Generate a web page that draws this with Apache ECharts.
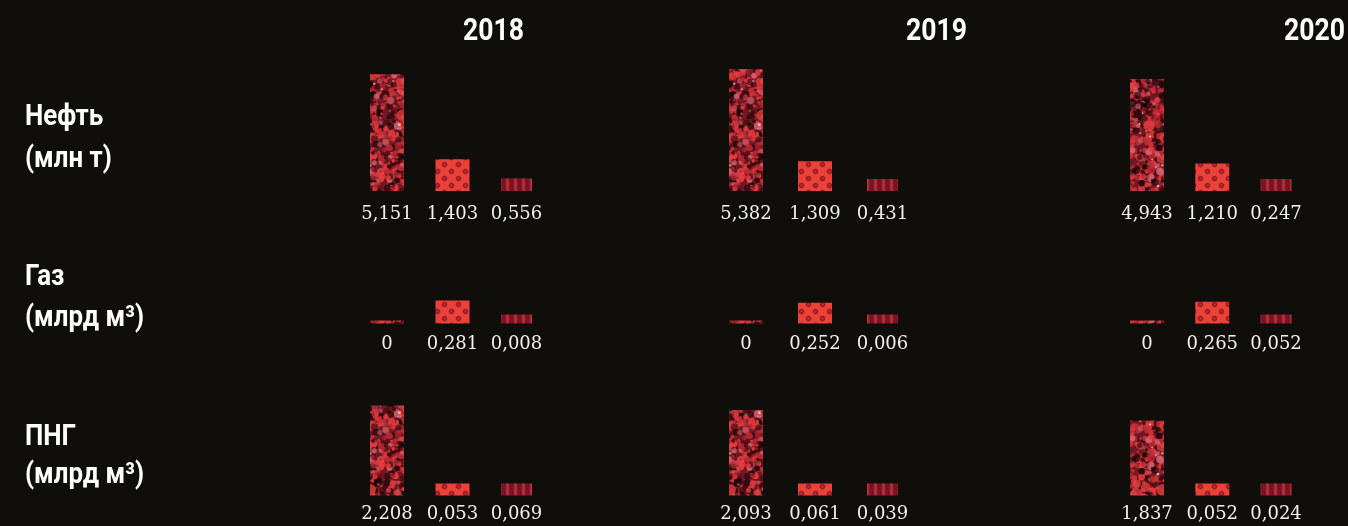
<!DOCTYPE html>
<html><head><meta charset="utf-8">
<script src="https://cdn.jsdelivr.net/npm/echarts@6/dist/echarts.min.js"></script>
<style>html,body{margin:0;padding:0;background:#100e0b;}#c{width:1348px;height:526px;}</style>
</head><body><div id="c"></div>
<script>
// ---- data ----
const years = ['2018', '2019', '2020'];
const barCategories = ['I', 'II', 'III'];
const rowTitles = ['Нефть', 'Газ', 'ПНГ'];
const rowUnits = ['(млн т)', '(млрд м³)', '(млрд м³)'];
// values per year: [bar I, bar II, bar III]
const oil = [[5.151, 1.403, 0.556], [5.382, 1.309, 0.431], [4.943, 1.210, 0.247]];
const gas = [[0, 0.281, 0.008], [0, 0.252, 0.006], [0, 0.265, 0.052]];
const apg = [[2.208, 0.053, 0.069], [2.093, 0.061, 0.039], [1.837, 0.052, 0.024]];
const rowsData = [oil, gas, apg];

// ---- textures ----
function rng(seed) { return function () { seed |= 0; seed = seed + 0x6D2B79F5 | 0; let t = Math.imul(seed ^ seed >>> 15, 1 | seed); t = t + Math.imul(t ^ t >>> 7, 61 | t) ^ t; return ((t ^ t >>> 14) >>> 0) / 4294967296; }; }
function noiseTexture() {
  const W = 72, H = 144;
  const cv = document.createElement('canvas'); cv.width = W; cv.height = H;
  const ctx = cv.getContext('2d'); const r = rng(11);
  ctx.fillStyle = '#70182222'; ctx.fillStyle = '#701822'; ctx.fillRect(0, 0, W, H);
  const blob = (x, y, rad, fill, a) => {
    ctx.globalAlpha = a; ctx.fillStyle = fill;
    for (const dx of [-W, 0, W]) for (const dy of [-H, 0, H]) {
      ctx.beginPath(); ctx.arc(x + dx, y + dy, rad, 0, Math.PI * 2); ctx.fill();
    }
  };
  const cols = [['#e43a3e', 0.3], ['#bf2834', 0.2], ['#2e080d', 0.24], ['#120505', 0.12], ['#d46272', 0.11], ['#e9d6cc', 0.03]];
  for (let i = 0; i < 900; i++) {
    let p = r(), c = cols[0][0];
    for (const [cc, w] of cols) { if (p < w) { c = cc; break; } p -= w; }
    const x = r() * W, y = r() * H;
    const rad = c === '#e9d6cc' ? 0.7 + r() * 0.8 : 1.2 + r() * 2.6;
    blob(x, y, rad, c, 0.45 + r() * 0.5);
  }
  for (let i = 0; i < 8; i++) {
    const x = r() * W, y = r() * H, rad = 3.5 + r() * 2.5;
    blob(x, y, rad, '#e8403f', 0.75);
  }
  ctx.globalAlpha = 1;
  return cv;
}
function dotTexture() {
  const cv = document.createElement('canvas'); cv.width = 14; cv.height = 14;
  const ctx = cv.getContext('2d');
  ctx.fillStyle = '#ec4139'; ctx.fillRect(0, 0, 14, 14);
  [[3.5, 3.5], [10.5, 10.5]].forEach(([x, y]) => {
    const g = ctx.createRadialGradient(x, y, 0, x, y, 3.8);
    g.addColorStop(0, '#c8302f'); g.addColorStop(0.55, '#8e1a24'); g.addColorStop(1, 'rgba(236,65,57,0)');
    ctx.fillStyle = g; ctx.beginPath(); ctx.arc(x, y, 3.8, 0, Math.PI * 2); ctx.fill();
  });
  return cv;
}
function stripeTexture() {
  const cv = document.createElement('canvas'); cv.width = 8; cv.height = 4;
  const ctx = cv.getContext('2d');
  const c = ['#761220', '#8a1826', '#a62634', '#b8323f', '#a42632', '#8c1a28', '#721120', '#7e1524'];
  c.forEach((col, i) => { ctx.fillStyle = col; ctx.fillRect(i, 0, 1, 4); });
  return cv;
}
const fills = [noiseTexture(), dotTexture(), stripeTexture()].map(cv => ({ image: cv, repeat: 'repeat' }));

// ---- layout ----
const colLeft = [352.75, 710, 1112.9];
const colWidth = [196.5, 207, 195.75];
const rowBottomY = [191, 323.5, 495.5];
const rowHeight = [136, 41, 102];
const rowMax = [6, 0.5, 2.5];
const barWidths = [34, 34, 31];
const rowMinHeight = [[12, 12, 12], [3, 9, 9], [12, 12, 12]];
const rowLabelDist = [14, 12, 10];
const fmt = v => v === 0 ? '0' : v.toFixed(3).replace('.', ',');

const grid = [], xAxis = [], yAxis = [], series = [];
rowsData.forEach((rowVals, r) => {
  years.forEach((yr, c) => {
    const g = grid.length;
    grid.push({ left: colLeft[c], width: colWidth[c], top: rowBottomY[r] - rowHeight[r], height: rowHeight[r] });
    xAxis.push({ type: 'category', gridIndex: g, data: barCategories, show: false });
    yAxis.push({ type: 'value', gridIndex: g, min: 0, max: rowMax[r], show: false });
    barCategories.forEach((cat, k) => {
      series.push({
        type: 'bar', xAxisIndex: g, yAxisIndex: g, barWidth: barWidths[k], barGap: '-100%',
        barMinHeight: rowMinHeight[r][k],
        data: barCategories.map((_, i) => i === k ? rowVals[c][k] : '-'),
        itemStyle: { color: fills[k] },
        label: { show: true, position: 'bottom', distance: rowLabelDist[r], formatter: p => fmt(p.value),
          color: '#f4f0ea', fontFamily: 'DejaVu Serif', fontSize: 18 },
        silent: true
      });
    });
  });
});

// condensed bold headings: Roboto bold, horizontally compressed
const headFont = 'bold 29px Roboto';
const yearFont = 'bold 31px Roboto';
const mctx = document.createElement('canvas').getContext('2d');
mctx.font = headFont; const rowScale = 119 / mctx.measureText('(млрд м³)').width;
mctx.font = yearFont; const yearScale = 61 / mctx.measureText('2018').width;

const graphic = [];
const rowTitleY = [[118, 160], [278, 319], [438, 476]];
rowTitles.forEach((t, r) => {
  [t, rowUnits[r]].forEach((txt, j) => {
    graphic.push({ type: 'text', x: 25, y: rowTitleY[r][j], scaleX: rowScale,
      style: { text: txt, fill: '#ffffff', font: headFont, align: 'left', verticalAlign: 'middle' } });
  });
});
const yearLeft = [463, 906, 1284];
years.forEach((y, c) => {
  graphic.push({ type: 'text', x: yearLeft[c], y: 32, scaleX: yearScale,
    style: { text: y, fill: '#ffffff', font: yearFont, align: 'left', verticalAlign: 'middle' } });
});

const chart = echarts.init(document.getElementById('c'), null, { renderer: 'canvas' });
chart.setOption({ backgroundColor: '#100e0b', animation: false, grid, xAxis, yAxis, series, graphic });
</script></body></html>
